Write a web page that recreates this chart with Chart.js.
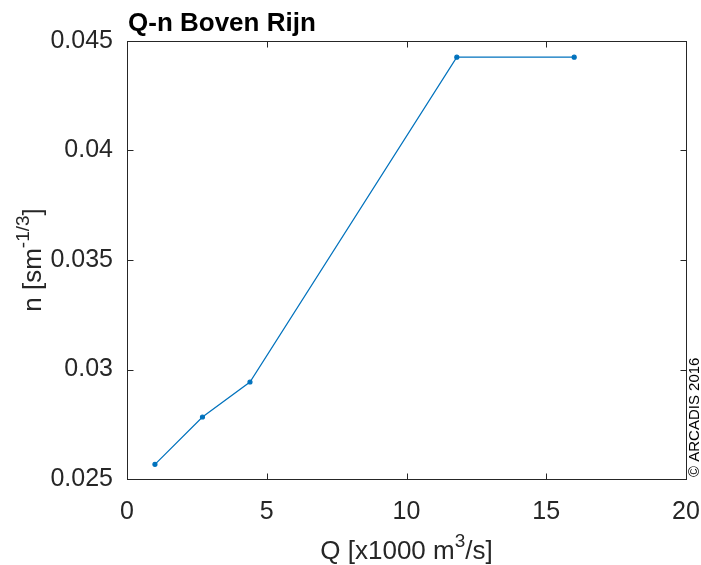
<!DOCTYPE html>
<html>
<head>
<meta charset="utf-8">
<script src="https://cdn.jsdelivr.net/npm/chart.js@4"></script>
<style>
  html, body { margin: 0; padding: 0; background: #fff; }
  #wrap { width: 701px; height: 565px; }
</style>
</head>
<body>
<div id="wrap"><canvas id="grafico"></canvas></div>
<script>
// afvoer Q (x1000 m3/s) en ruwheid n
const afvoer = [1.0, 2.7, 4.4, 11.8, 16.0];
const ruwheid = [0.02567, 0.02783, 0.02943, 0.04426, 0.04426];
const xTicks = [0, 5, 10, 15, 20];
const yTicks = [0.025, 0.03, 0.035, 0.04, 0.045];

const FONT = 'Liberation Sans, Arial, Helvetica, sans-serif';
const AS_KLEUR = '#262626';

// tekst met superscript tekenen (deel voor, exponent, deel na)
function tekstMetSup(ctx, voor, sup, na, x, y, size) {
    const supSize = Math.round(size * 0.72);
    ctx.font = size + 'px ' + FONT;
    const w1 = ctx.measureText(voor).width;
    const w3 = ctx.measureText(na).width;
    ctx.font = supSize + 'px ' + FONT;
    const w2 = ctx.measureText(sup).width;
    let cx = x - (w1 + w2 + w3) / 2;
    ctx.textAlign = 'left';
    ctx.textBaseline = 'alphabetic';
    ctx.font = size + 'px ' + FONT;
    ctx.fillText(voor, cx, y);
    cx += w1;
    ctx.font = supSize + 'px ' + FONT;
    ctx.fillText(sup, cx, y - size * 0.45);
    cx += w2;
    ctx.font = size + 'px ' + FONT;
    ctx.fillText(na, cx, y);
}

// kader, ticks naar binnen, titels en copyright
const matlabStijl = {
    id: 'matlabStijl',
    afterDraw(chart) {
        const { ctx, chartArea: a, scales } = chart;
        const lx = Math.round(a.left) + 0.5, rx = Math.round(a.right) + 0.5;
        const ty = Math.round(a.top) + 0.5, by = Math.round(a.bottom) + 0.5;
        ctx.save();
        ctx.strokeStyle = AS_KLEUR;
        ctx.lineWidth = 1;
        ctx.strokeRect(lx, ty, rx - lx, by - ty);

        const len = 6;
        ctx.beginPath();
        xTicks.forEach(v => {
            const px = Math.round(scales.x.getPixelForValue(v)) + 0.5;
            ctx.moveTo(px, by); ctx.lineTo(px, by - len);
            ctx.moveTo(px, ty); ctx.lineTo(px, ty + len);
        });
        yTicks.forEach(v => {
            const py = Math.round(scales.y.getPixelForValue(v)) + 0.5;
            ctx.moveTo(lx, py); ctx.lineTo(lx + len, py);
            ctx.moveTo(rx, py); ctx.lineTo(rx - len, py);
        });
        ctx.stroke();

        ctx.fillStyle = '#000';
        ctx.font = 'bold 26px ' + FONT;
        ctx.textAlign = 'left';
        ctx.textBaseline = 'alphabetic';
        ctx.fillText('Q-n Boven Rijn', a.left + 1, 31);

        ctx.fillStyle = AS_KLEUR;
        tekstMetSup(ctx, 'Q [x1000 m', '3', '/s]', (a.left + a.right) / 2, 559, 26);

        ctx.save();
        ctx.translate(41, (a.top + a.bottom) / 2);
        ctx.rotate(-Math.PI / 2);
        tekstMetSup(ctx, 'n [sm', '-1/3', ']', 0, 0, 26);
        ctx.restore();

        ctx.save();
        ctx.translate(699, 477);
        ctx.rotate(-Math.PI / 2);
        ctx.fillStyle = '#000';
        ctx.font = '15px ' + FONT;
        ctx.textAlign = 'left';
        ctx.fillText('\u00A9 ARCADIS 2016', 0, 0);
        ctx.restore();
        ctx.restore();
    }
};

new Chart(document.getElementById('grafico'), {
    type: 'line',
    data: {
        datasets: [{
            data: afvoer.map((q, i) => ({ x: q, y: ruwheid[i] })),
            borderColor: '#0072BD',
            backgroundColor: '#0072BD',
            borderWidth: 1.2,
            pointRadius: 2,
            pointHoverRadius: 2,
            tension: 0
        }]
    },
    options: {
        responsive: true,
        maintainAspectRatio: false,
        animation: false,
        layout: { padding: { top: 41, right: 15, left: 0, bottom: 0 } },
        plugins: {
            legend: { display: false },
            tooltip: { enabled: false }
        },
        scales: {
            x: {
                type: 'linear',
                min: 0, max: 20,
                afterBuildTicks: s => { s.ticks = xTicks.map(v => ({ value: v })); },
                afterFit: s => { s.height = 86; s.paddingLeft = 0; s.paddingRight = 0; },
                grid: { display: false, drawTicks: false },
                border: { display: false },
                ticks: {
                    padding: 18,
                    color: AS_KLEUR,
                    font: { family: FONT, size: 25 },
                    callback: v => String(v)
                }
            },
            y: {
                type: 'linear',
                min: 0.025, max: 0.045,
                afterBuildTicks: s => { s.ticks = yTicks.map(v => ({ value: v })); },
                afterFit: s => { s.width = 127; s.paddingTop = 0; s.paddingBottom = 0; },
                grid: { display: false, drawTicks: false },
                border: { display: false },
                ticks: {
                    padding: 14,
                    color: AS_KLEUR,
                    font: { family: FONT, size: 25 },
                    callback: v => String(Number(v.toFixed(3)))
                }
            }
        }
    },
    plugins: [matlabStijl]
});
</script>
</body>
</html>
